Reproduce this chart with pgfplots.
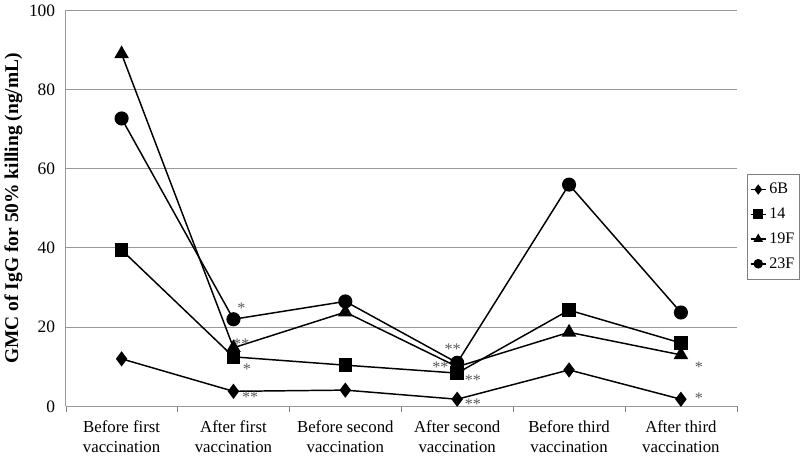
\documentclass[border=0pt]{standalone}
\usepackage{pgfplots}
\pgfplotsset{compat=1.18}
\usepackage{fontspec}
\setmainfont{Liberation Serif}
\begin{document}
\begin{tikzpicture}
\begin{axis}[
  width=500pt, height=295pt, scale only axis,
  xmin=-0.5, xmax=5.5, ymin=0, ymax=100,
  xtick={0,...,5},
  xticklabels={Before first\\vaccination, After first\\vaccination, Before second\\vaccination, After second\\vaccination, Before third\\vaccination, After third\\vaccination},
  xticklabel style={align=center, font=\fontsize{12.5}{14.5}\selectfont, yshift=-3pt},
  major x tick style={draw=none},
  minor xtick={-0.5,0.5,...,5.5},
  minor x tick style={gray},
  tick align=outside,
  minor tick length=4pt,
  ytick={0,20,...,100},
  yticklabel style={font=\fontsize{13}{14}\selectfont},
  /pgf/number format/assume math mode=true,
  ymajorgrids, grid style={gray!80, line width=0.8pt},
  major y tick style={draw=none},
  axis x line*=bottom, axis y line*=left,
  axis line style={gray!80, line width=0.8pt},
  ylabel={\textbf{GMC of IgG for 50\% killing (ng/mL)}},
  ylabel style={font=\fontsize{14.5}{15}\selectfont, yshift=-2pt},
  legend style={at={(1.015,0.588)}, anchor=north west, draw=gray, font=\fontsize{12}{13}\selectfont, row sep=5pt, inner xsep=2pt, inner ysep=5pt},
  legend cell align=left,
  legend image code/.code={\draw[mark repeat=2,mark phase=2,mark size=3pt] plot coordinates {(0cm,0cm)(0.2cm,0cm)(0.4cm,0cm)};},
  every axis plot/.append style={black, line width=1.1pt, mark options={solid, fill=black}},
  clip=false,
]
\addplot[mark=diamond*, mark size=4.8pt] coordinates {(0,12) (1,3.8) (2,4.1) (3,1.8) (4,9.2) (5,1.8)};
\addplot[mark=square*, mark size=4.5pt] coordinates {(0,39.5) (1,12.5) (2,10.4) (3,8.4) (4,24.3) (5,16)};
\addplot[mark=triangle*, mark size=5.2pt] coordinates {(0,89) (1,14.8) (2,23.8) (3,10) (4,18.7) (5,13)};
\addplot[mark=*, mark size=4.7pt] coordinates {(0,72.7) (1,22) (2,26.5) (3,11) (4,56) (5,23.7)};
\legend{6B,14,19F,23F}
\begin{scope}[every node/.style={font=\fontsize{12}{12}\selectfont, text=gray!70!black, inner sep=0pt}]
\node at (axis cs:1.07,24.8) {*};
\node at (axis cs:1.07,15.6) {**};
\node at (axis cs:1.12,9.5) {*};
\node at (axis cs:1.15,2.4) {**};
\node at (axis cs:2.96,14.4) {**};
\node at (axis cs:2.85,9.8) {**};
\node at (axis cs:3.14,6.7) {**};
\node at (axis cs:3.14,0.6) {**};
\node at (axis cs:5.16,9.8) {*};
\node at (axis cs:5.16,2.1) {*};
\end{scope}
\end{axis}
\end{tikzpicture}
\end{document}
